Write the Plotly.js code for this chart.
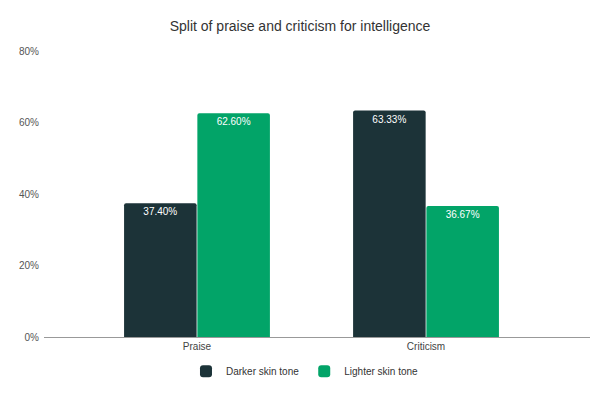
<!DOCTYPE html>
<html>
<head>
<meta charset="utf-8">
<script src="https://cdn.plot.ly/plotly-3.0.1.min.js"></script>
<style>html,body{margin:0;padding:0;background:#fff;}#chart{width:600px;height:397px;}</style>
</head>
<body>
<div id="chart"></div>
<script>
const categories = ["Praise", "Criticism"];
const darkerValues = [37.40, 63.33];
const lighterValues = [62.60, 36.67];
const seriesNames = ["Darker skin tone", "Lighter skin tone"];
const yTickVals = [0, 20, 40, 60, 80];
const yTickText = ["0%", "20%", "40%", "60%", "80%"];

const fontFam = "Liberation Sans, Arial, sans-serif";
function mk(name, vals, color) {
  return {
    type: "bar", name: name, x: categories, y: vals,
    marker: {color: color, cornerradius: 2},
    texttemplate: "%{y:.2f}%", textposition: "inside", insidetextanchor: "end",
    textfont: {color: "#ffffff", size: 10, family: fontFam},
    textangle: 0, hoverinfo: "skip"
  };
}
const data = [
  mk(seriesNames[0], darkerValues, "#1c3338"),
  mk(seriesNames[1], lighterValues, "#02a468")
];
const layout = {
  width: 600, height: 397,
  margin: {l: 44, r: 10, t: 51, b: 60, autoexpand: false},
  paper_bgcolor: "#fff", plot_bgcolor: "#fff",
  font: {family: fontFam, color: "#444", size: 10},
  title: {text: "Split of praise and criticism for intelligence", x: 0.5, xanchor: "center", y: 0.935, yanchor: "middle",
          font: {size: 14, color: "#333", family: fontFam}},
  barmode: "group", bargap: 0.36, bargroupgap: 0.01,
  xaxis: {type: "category", range: [-0.668, 1.716], showgrid: false, zeroline: false,
          showline: true, linecolor: "#999", linewidth: 1, ticks: "",
          tickfont: {size: 10, color: "#444"}, fixedrange: true, automargin: false},
  yaxis: {range: [0, 80], tickvals: yTickVals, ticktext: yTickText, showgrid: false, zeroline: false,
          showline: false, ticks: "", tickfont: {size: 10, color: "#555"}, ticklabelstandoff: 4, fixedrange: true, automargin: false},
  legend: {orientation: "h", x: 0.478, xanchor: "center", yref: "container", y: 0.065, yanchor: "middle",
           font: {size: 10, color: "#333"}, itemwidth: 30}
};
Plotly.newPlot("chart", data, layout, {displayModeBar: false, staticPlot: true});
</script>
</body>
</html>
